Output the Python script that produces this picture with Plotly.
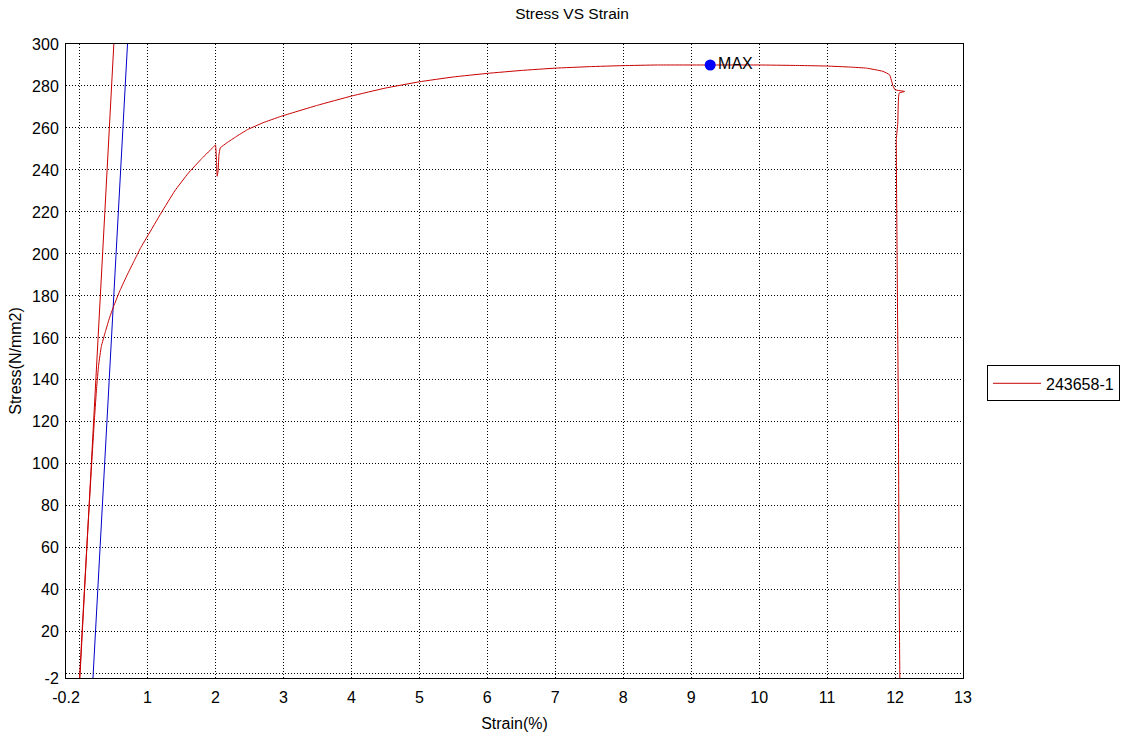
import plotly.graph_objects as go

# Stress-strain curve (specimen 243658-1)
strain = [0.0, 0.05, 0.10, 0.176, 0.22, 0.25, 0.28, 0.32, 0.38, 0.44, 0.50, 0.60, 0.70,
          0.80, 0.90, 1.0, 1.2, 1.4, 1.6, 1.8, 1.98, 2.00, 2.015, 2.025, 2.04, 2.05,
          2.07, 2.17, 2.30, 2.47, 2.70, 2.96, 3.5, 4.0, 4.5, 5.0, 5.5, 6.0, 6.5, 7.0,
          7.5, 8.0, 8.5, 9.28, 10.0, 10.5, 11.0, 11.34, 11.58, 11.82, 11.92, 11.97,
          12.0, 12.14, 12.06, 12.04, 12.02, 12.03, 12.05, 12.06, 12.07, 12.07]
stress = [-2, 28, 57, 99, 122, 136, 147, 156, 163, 169.5, 175, 183, 190,
          196.5, 203, 208.5, 219.5, 230, 238.5, 245.5, 251.3, 252, 244, 237, 240, 247,
          250.5, 253, 255.8, 259.2, 262.5, 265.5, 270.8, 275.2, 279, 282, 284.3, 286, 287.4, 288.5,
          289.2, 289.7, 290, 290, 290, 289.8, 289.5, 289,
          288.5, 287, 285.3, 280, 278.2, 277.4, 276.6, 262, 255, 200, 120,
          40, 0, -2]

# Elastic modulus line (red) and 0.2 % offset line (blue)
mod_strain = [0.004, 0.504]
mod_stress = [-2, 300]
off_strain = [0.197, 0.705]
off_stress = [-2, 300]

# Maximum point
max_strain = [9.28]
max_stress = [290]
max_label = ["MAX"]

x_tickvals = [-0.2, 0, 1, 2, 3, 4, 5, 6, 7, 8, 9, 10, 11, 12, 13]
x_ticktext = ["-0.2", "", "1", "2", "3", "4", "5", "6", "7", "8", "9", "10", "11", "12", "13"]
y_tickvals = [-2, 0, 20, 40, 60, 80, 100, 120, 140, 160, 180, 200, 220, 240, 260, 280, 300]
y_ticktext = ["-2", "", "20", "40", "60", "80", "100", "120", "140", "160", "180", "200",
              "220", "240", "260", "280", "300"]

RED = "rgb(200,0,0)"
BLUE = "rgb(0,0,200)"
FONT = "Liberation Sans, Arial, sans-serif"

fig = go.Figure()
fig.add_trace(go.Scatter(x=mod_strain, y=mod_stress, mode="lines",
                         line=dict(color=RED, width=1), showlegend=False, hoverinfo="skip"))
fig.add_trace(go.Scatter(x=off_strain, y=off_stress, mode="lines",
                         line=dict(color=BLUE, width=1), showlegend=False, hoverinfo="skip"))
fig.add_trace(go.Scatter(x=strain, y=stress, mode="lines", name="243658-1",
                         line=dict(color=RED, width=1, shape="spline", smoothing=0.3)))
fig.add_trace(go.Scatter(x=max_strain, y=max_stress, mode="markers+text", text=max_label,
                         textposition="middle right",
                         textfont=dict(size=16, color="black", family=FONT),
                         marker=dict(color="rgb(0,0,255)", size=11), showlegend=False))

fig.update_layout(
    width=1144, height=741,
    margin=dict(l=66, r=181, t=44, b=60),
    paper_bgcolor="white", plot_bgcolor="white",
    font=dict(family=FONT, size=16, color="black"),
    title=dict(text="Stress VS Strain", x=0.5, xanchor="center",
               y=1 - 14 / 741, yanchor="middle", font=dict(size=15.5, color="black")),
    xaxis=dict(range=[-0.2, 13], tickmode="array", tickvals=x_tickvals, ticktext=x_ticktext,
               showgrid=True, gridcolor="black", gridwidth=1, griddash="1px,2px",
               showline=True, linecolor="black", linewidth=1, mirror=True,
               ticks="outside", ticklen=5, tickcolor="rgba(0,0,0,0)", zeroline=False,
               title=dict(text="Strain(%)", font=dict(size=16), standoff=12)),
    yaxis=dict(range=[-2, 300], tickmode="array", tickvals=y_tickvals, ticktext=y_ticktext,
               showgrid=True, gridcolor="black", gridwidth=1, griddash="1px,2px",
               showline=True, linecolor="black", linewidth=1, mirror=True,
               ticks="outside", ticklen=3, tickcolor="rgba(0,0,0,0)", zeroline=False,
               title=dict(text="Stress(N/mm2)", font=dict(size=16), standoff=6)),
    legend=dict(x=(987 - 66) / 897, y=(681 - 385) / 637, xanchor="left", yanchor="middle",
                bordercolor="black", borderwidth=1, bgcolor="white",
                font=dict(size=16), itemwidth=48),
)

fig.write_html("out.html")
